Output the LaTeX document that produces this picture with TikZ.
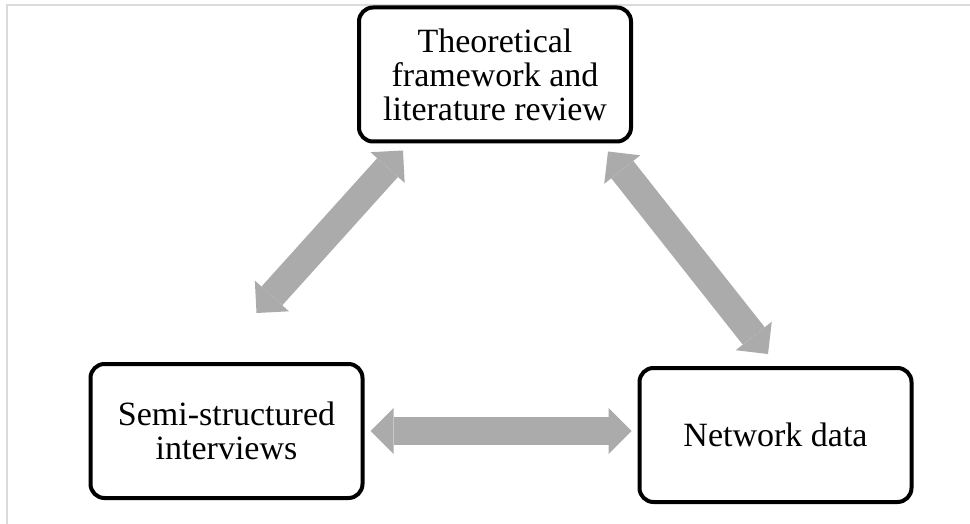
\documentclass[tikz,border=0pt]{standalone}
\usepackage{fontspec}
\setmainfont{Liberation Serif}
\usepackage{tikz}
\usetikzlibrary{arrows.meta}
\usetikzlibrary{positioning}
\usetikzlibrary{calc}
\definecolor{myarrowgray}{RGB}{171,171,171}
\definecolor{myframegray}{RGB}{218,218,218}
\newcommand\mybox[3][]{%
  \node[mybox,#1] (#2) {#3};
}

\begin{document}
\begin{tikzpicture}[
x=0.5pt, y=-0.5pt,
mybox/.style={
  rectangle,
  rounded corners=7pt,
  draw,
  line width=2pt,
  fill=white,
  minimum width=136pt,
  minimum height=67pt,
  align=center,
  font=\fontsize{17}{17}\selectfont},
myarrow/.style={
  draw=myarrowgray,
  line width=14pt,
  {Triangle[length=11.5pt,width=23pt,line width=0pt]}-{Triangle[length=11.5pt,width=23pt,line width=0pt]}}
]
\useasboundingbox (0,0) rectangle (970,524);
\draw[myframegray, line width=1pt] (7,524) -- (7,5) -- (970,5);
\mybox[at={(495,74.5)}]{theory}{Theoretical\\framework and\\literature review}
\mybox[at={(226.5,431)}]{interviews}{Semi-structured\\interviews}
\mybox[at={(775.5,435)}]{network}{Network data}
\draw [myarrow] ([xshift=15pt,yshift=24.5pt]interviews.north) -- ([xshift=23pt,yshift=-3.5pt]theory.south west);
\draw [myarrow] ([xshift=-12.5pt,yshift=-4pt]theory.south east) -- ([xshift=-3.75pt,yshift=6pt]network.north);
\draw [myarrow] ([xshift=3pt]interviews.east) -- ([xshift=-3pt]interviews.east -| network.west);
\end{tikzpicture}
\end{document}
